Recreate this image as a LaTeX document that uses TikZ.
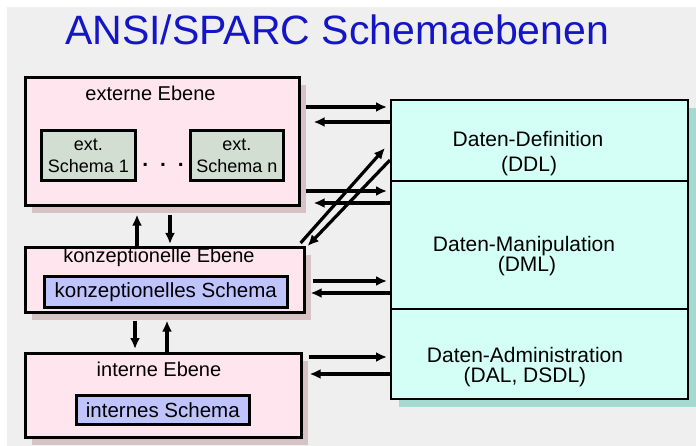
\documentclass[tikz,border=0pt]{standalone}
\usepackage{fontspec}
\setmainfont{Liberation Sans}
\usetikzlibrary{arrows.meta,shadows,calc}
\definecolor{bg}{HTML}{EFEFEF}
\definecolor{pinkf}{HTML}{FFE6EE}
\definecolor{pinks}{HTML}{D6C2C4}
\definecolor{greenf}{HTML}{D2DED2}
\definecolor{lavf}{HTML}{C0C4FC}
\definecolor{cyanf}{HTML}{D4FFF6}
\definecolor{cyans}{HTML}{A6D9D0}
\definecolor{titleblue}{HTML}{1515C8}
\tikzset{
  levelbox/.style={draw=black, line width=2.6pt, fill=pinkf, anchor=north west, inner sep=0pt,
    general shadow={fill=pinks, shadow xshift=7pt, shadow yshift=-8pt}},
  schemabox/.style={draw=black, line width=2.6pt, anchor=north west, inner sep=0pt, align=center},
  langbox/.style={draw=black, line width=2.4pt, fill=cyanf, anchor=north west, inner sep=0pt,
    minimum width=297pt, general shadow={fill=cyans, shadow xshift=8pt, shadow yshift=-8pt}},
  lbl/.style={anchor=base, inner sep=0pt, font=\fontsize{20}{24}\selectfont},
  lblr/.style={anchor=base, inner sep=0pt, font=\fontsize{21}{25}\selectfont},
  arr/.style={draw=black, line width=3.2pt, -{Latex[length=11pt,width=10pt]}}
}
\begin{document}
\begin{tikzpicture}[x=1pt,y=-1pt]
\path[use as bounding box] (0,0) rectangle (696,446);
\fill[bg] (7,7) rectangle (696,446);

\node[anchor=base west, inner sep=0pt, font=\fontsize{41}{48}\selectfont, text=titleblue] (title) at (65,45) {ANSI/SPARC Schemaebenen};

% left levels
\node[levelbox, minimum width=274pt, minimum height=128pt] (ext) at (24,76) {};
\node[levelbox, minimum width=279pt, minimum height=65pt] (konz) at (24,246) {};
\node[levelbox, minimum width=276pt, minimum height=84pt] (int) at (24,352) {};

\node[lbl] (extlbl) at (150.5,101) {externe Ebene};
\node[lbl] (konzlbl) at (159,263) {konzeptionelle Ebene};
\node[lbl] (intlbl) at (159,376) {interne Ebene};

\node[schemabox, fill=greenf, minimum width=94pt, minimum height=50pt, font=\fontsize{18}{22}\selectfont] (es1) at (40,129) {ext.\\Schema 1};
\node[schemabox, fill=greenf, minimum width=93pt, minimum height=50pt, font=\fontsize{18}{22}\selectfont] (esn) at (189,129) {ext.\\Schema n};
\node[anchor=base, inner sep=0pt, font=\bfseries\fontsize{21}{24}\selectfont] (dots) at (163,167) {.\hspace{12pt}.\hspace{12pt}.};

\node[schemabox, fill=lavf, minimum width=243pt, minimum height=31pt, font=\fontsize{20.5}{24}\selectfont] (konzS) at (43,275) {konzeptionelles Schema};
\node[schemabox, fill=lavf, minimum width=173pt, minimum height=29pt, font=\fontsize{20.5}{24}\selectfont] (intS) at (75,394) {internes Schema};

% right languages
\node[langbox, minimum height=81pt] (ddl) at (390,99) {};
\node[langbox, minimum height=128pt] (dml) at (390,180) {};
\node[langbox, minimum height=90pt] (dal) at (390,308) {};

\node[lblr] (ddl1) at (528,147) {Daten-Definition};
\node[lblr] (ddl2) at (529,172) {(DDL)};
\node[lblr] (dml1) at (524,252) {Daten-Manipulation};
\node[lblr] (dml2) at (527,272) {(DML)};
\node[lblr] (dal1) at (525,362) {Daten-Administration};
\node[lblr] (dal2) at (525,382) {(DAL, DSDL)};

% horizontal connectors
\draw[arr, shorten <=5pt, shorten >=3pt] (ext.east |- 0,107) -- (ddl.west |- 0,107);
\draw[arr, shorten >=13pt] (ddl.west |- 0,122) -- (ext.east |- 0,122);
\draw[arr, shorten <=5pt, shorten >=3pt] (ext.east |- 0,191) -- (dml.west |- 0,191);
\draw[arr, shorten >=13pt] (dml.west |- 0,203) -- (ext.east |- 0,203);

\draw[arr, shorten <=7pt, shorten >=3pt] (konz.east |- 0,281) -- (dml.west |- 0,281);
\draw[arr, shorten >=5pt] (dml.west |- 0,293) -- (konz.east |- 0,293);

\draw[arr, shorten <=6pt, shorten >=3pt] (int.east |- 0,357) -- (dal.west |- 0,357);
\draw[arr, shorten >=7pt] (dal.west |- 0,374) -- (int.east |- 0,374);

% diagonal connectors
\draw[arr] ($(konz.north east)+(-5,-3)$) -- ($(ddl.west |- 0,148)+(-5,0)$);
\draw[arr] (ddl.west |- 0,160) -- ($(konz.north east)+(2,0)$);

% vertical connectors
\draw[arr, shorten >=8pt] (konz.north -| 137,0) -- (ext.south -| 137,0);
\draw[arr, shorten <=8pt, shorten >=2pt] (ext.south -| 170,0) -- (konz.north -| 170,0);
\draw[arr, shorten <=7pt, shorten >=3pt] (konz.south -| 135,0) -- (int.north -| 135,0);
\draw[arr, shorten >=7pt] (int.north -| 167,0) -- (konz.south -| 167,0);
\end{tikzpicture}
\end{document}
